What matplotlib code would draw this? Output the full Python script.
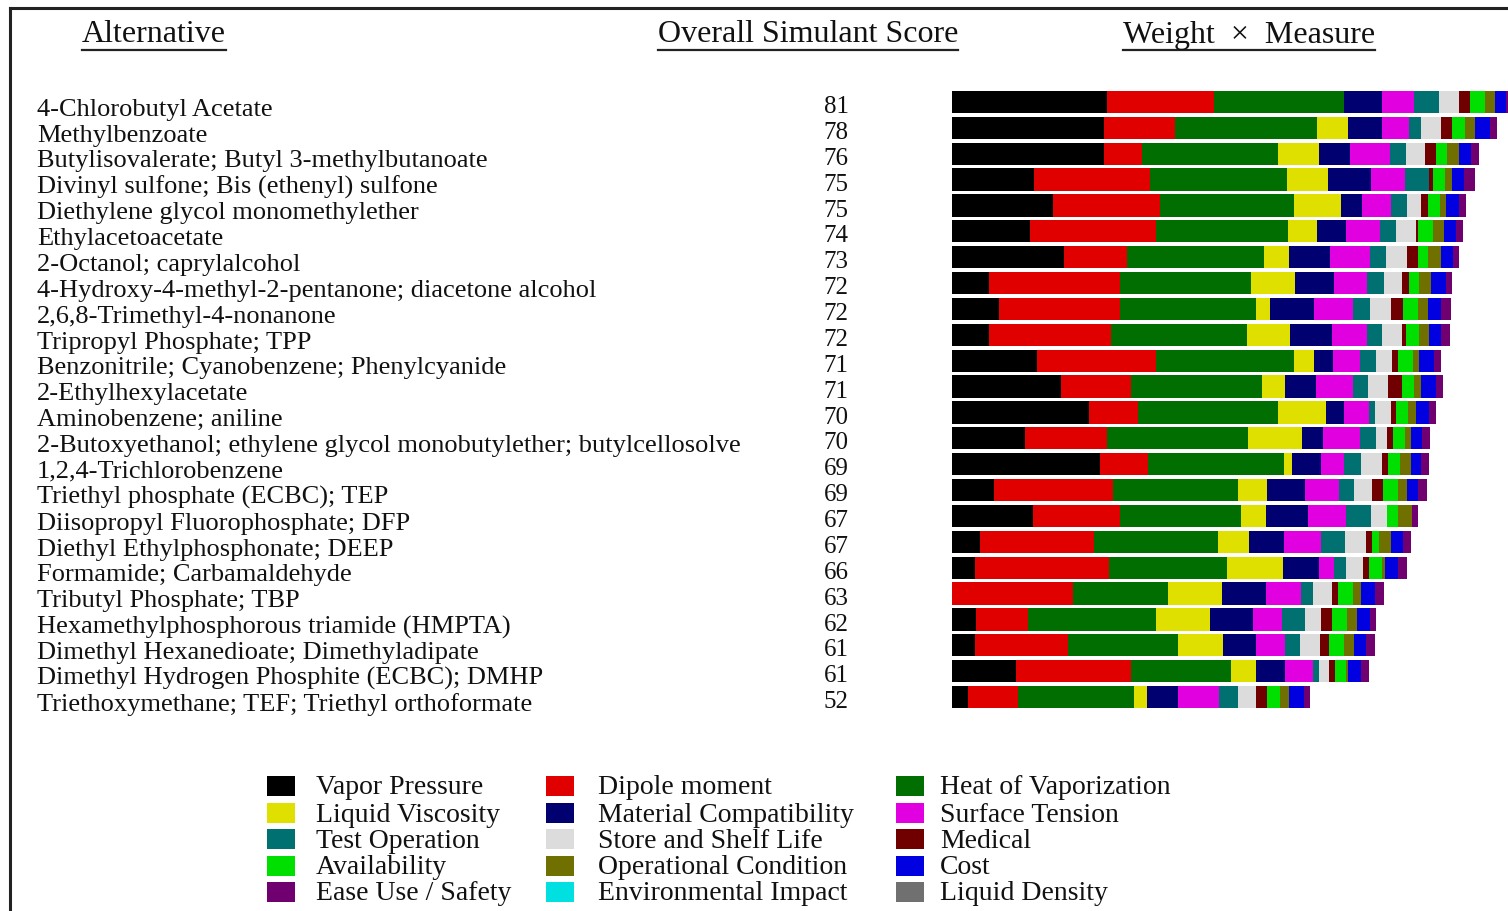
import matplotlib
matplotlib.use("Agg")
import matplotlib.pyplot as plt
from matplotlib.patches import Rectangle
from matplotlib.lines import Line2D
import matplotlib.transforms as mtransforms
import numpy as np

plt.rcParams['font.family'] = ['Liberation Serif', 'DejaVu Serif']

# alternatives, best first
names = [
    "4-Chlorobutyl Acetate",
    "Methylbenzoate",
    "Butylisovalerate; Butyl 3-methylbutanoate",
    "Divinyl sulfone; Bis (ethenyl) sulfone",
    "Diethylene glycol monomethylether",
    "Ethylacetoacetate",
    "2-Octanol; caprylalcohol",
    "4-Hydroxy-4-methyl-2-pentanone; diacetone alcohol",
    "2,6,8-Trimethyl-4-nonanone",
    "Tripropyl Phosphate; TPP",
    "Benzonitrile; Cyanobenzene; Phenylcyanide",
    "2-Ethylhexylacetate",
    "Aminobenzene; aniline",
    "2-Butoxyethanol; ethylene glycol monobutylether; butylcellosolve",
    "1,2,4-Trichlorobenzene",
    "Triethyl phosphate (ECBC); TEP",
    "Diisopropyl Fluorophosphate; DFP",
    "Diethyl Ethylphosphonate; DEEP",
    "Formamide; Carbamaldehyde",
    "Tributyl Phosphate; TBP",
    "Hexamethylphosphorous triamide (HMPTA)",
    "Dimethyl Hexanedioate; Dimethyladipate",
    "Dimethyl Hydrogen Phosphite (ECBC); DMHP",
    "Triethoxymethane; TEF; Triethyl orthoformate",
]
scores = [81, 78, 76, 75, 75, 74, 73, 72, 72, 72, 71, 71, 70, 70, 69, 69,
          67, 67, 66, 63, 62, 61, 61, 52]

# weight x measure, one list per criterion (stack order)
vapor = [22.3, 22.0, 22.0, 11.9, 14.6, 11.3, 16.1, 5.3, 6.8, 5.3, 12.2, 15.8,
         19.7, 10.5, 21.4, 6.0, 11.7, 4.1, 3.3, 0.0, 3.5, 3.3, 9.2, 2.3]
dipole = [15.5, 10.2, 5.4, 16.7, 15.4, 18.1, 9.2, 18.9, 17.4, 17.6, 17.3, 10.1,
          7.2, 11.9, 6.9, 17.3, 12.5, 16.4, 19.4, 17.5, 7.5, 13.5, 16.7, 7.2]
heat = [18.8, 20.5, 19.6, 19.8, 19.4, 19.1, 19.7, 19.0, 19.6, 19.7, 19.8, 18.8,
        20.2, 20.3, 19.6, 17.9, 17.5, 17.9, 17.0, 13.6, 18.5, 15.8, 14.4, 16.8]
viscosity = [0.0, 4.5, 6.0, 5.8, 6.8, 4.2, 3.6, 6.3, 2.1, 6.2, 3.0, 3.3,
             6.8, 7.8, 1.2, 4.2, 3.6, 4.4, 8.0, 7.9, 7.8, 6.5, 3.5, 1.8]
material = [5.4, 4.8, 4.5, 6.3, 3.0, 4.1, 6.0, 5.6, 6.3, 6.1, 2.7, 4.5,
            2.7, 3.0, 4.2, 5.6, 6.0, 5.1, 5.3, 6.3, 6.2, 4.8, 4.2, 4.5]
surface = [4.7, 3.9, 5.7, 4.8, 4.1, 4.9, 5.7, 4.8, 5.7, 5.0, 3.9, 5.4,
           3.6, 5.4, 3.3, 4.9, 5.6, 5.3, 2.1, 5.0, 4.1, 4.2, 4.1, 6.0]
test_op = [3.6, 1.8, 2.3, 3.5, 2.3, 2.3, 2.3, 2.4, 2.4, 2.1, 2.3, 2.1,
           0.9, 2.3, 2.4, 2.1, 3.6, 3.5, 1.8, 1.8, 3.3, 2.1, 0.8, 2.6]
shelf = [2.8, 2.9, 2.7, 0.0, 2.1, 2.9, 3.0, 2.6, 3.0, 3.0, 2.3, 2.9,
         2.3, 1.5, 3.0, 2.6, 2.3, 3.0, 2.4, 2.7, 2.4, 2.9, 1.5, 2.6]
medical = [1.6, 1.6, 1.6, 0.6, 1.0, 0.4, 1.6, 1.0, 1.8, 0.5, 0.9, 2.1,
           0.6, 1.0, 0.9, 1.6, 0.0, 0.9, 0.9, 0.9, 1.6, 1.3, 0.8, 1.6]
avail = [2.2, 1.8, 1.7, 1.8, 1.7, 2.1, 1.5, 1.5, 2.1, 1.9, 2.1, 1.6,
         1.8, 1.7, 1.7, 2.1, 1.5, 1.0, 1.8, 2.1, 2.1, 2.1, 1.7, 1.9]
opcond = [1.5, 1.5, 1.6, 0.9, 0.9, 1.6, 1.8, 1.7, 1.5, 1.5, 0.9, 1.1,
          1.2, 0.9, 1.6, 1.4, 2.1, 1.7, 0.5, 1.2, 1.4, 1.5, 0.3, 1.4]
cost = [1.6, 2.2, 1.8, 1.8, 1.8, 1.7, 1.8, 2.2, 1.8, 1.7, 2.1, 2.2,
        1.8, 1.5, 1.5, 1.6, 0.0, 1.8, 1.8, 2.0, 1.9, 1.8, 1.8, 2.1]
ease = [1.0, 0.9, 1.1, 1.5, 1.1, 1.1, 0.9, 0.9, 1.5, 1.2, 1.0, 0.9,
        1.1, 1.2, 1.2, 1.2, 0.9, 1.1, 1.3, 1.3, 0.9, 1.2, 1.2, 0.9]

stack = [
    ("Vapor Pressure", vapor, "#000000"),
    ("Dipole moment", dipole, "#e00000"),
    ("Heat of Vaporization", heat, "#006e00"),
    ("Liquid Viscosity", viscosity, "#e0e000"),
    ("Material Compatibility", material, "#000070"),
    ("Surface Tension", surface, "#e000e0"),
    ("Test Operation", test_op, "#007070"),
    ("Store and Shelf Life", shelf, "#dcdcdc"),
    ("Medical", medical, "#700000"),
    ("Availability", avail, "#00e000"),
    ("Operational Condition", opcond, "#707000"),
    ("Cost", cost, "#0000e0"),
    ("Ease Use / Safety", ease, "#700070"),
]

# legend, row by row as in the original
legend_rows = [
    [("Vapor Pressure", "#000000"), ("Dipole moment", "#e00000"), ("Heat of Vaporization", "#006e00")],
    [("Liquid Viscosity", "#e0e000"), ("Material Compatibility", "#000070"), ("Surface Tension", "#e000e0")],
    [("Test Operation", "#007070"), ("Store and Shelf Life", "#dcdcdc"), ("Medical", "#700000")],
    [("Availability", "#00e000"), ("Operational Condition", "#707000"), ("Cost", "#0000e0")],
    [("Ease Use / Safety", "#700070"), ("Environmental Impact", "#00e0e0"), ("Liquid Density", "#707070")],
]

W, H = 1508, 911
fig = plt.figure(figsize=(W / 100, H / 100), dpi=100)

def fx(px):
    return px / W

def fy(py):
    return 1 - py / H

# bar panel
ax = fig.add_axes([fx(952), fy(710), 1 - fx(952), (710 - 89) / H])
y = np.arange(len(names))
left = np.zeros(len(names))
for label, vals, col in stack:
    vals = np.array(vals)
    ax.barh(y, vals, left=left, height=0.86, color=col, edgecolor='none')
    left += vals
ax.set_ylim(len(names) - 0.5, -0.5)
ax.set_xlim(0, (W - 952) / 6.93)
ax.axis('off')

# names and scores
tr = mtransforms.blended_transform_factory(fig.transFigure, ax.transData)
for i, (n, s) in enumerate(zip(names, scores)):
    ax.text(fx(37), i + 0.3, n, transform=tr, ha='left', va='center',
            fontsize=19, color='#111111', clip_on=False)
    ax.text(fx(836), i + 0.2, str(s), transform=tr, ha='center', va='center',
            fontsize=18, color='#111111', clip_on=False)

# headers, underlined
heads = [(82, "Alternative"), (658, "Overall Simulant Score"), (1123, "Weight  \u00d7  Measure")]
htexts = []
for xp, t in heads:
    htexts.append(fig.text(fx(xp), fy(35), t, ha='left', va='center',
                           fontsize=23, color='#111111'))
fig.canvas.draw()
rend = fig.canvas.get_renderer()
for t in htexts:
    bb = t.get_window_extent(rend)
    fig.add_artist(Line2D([bb.x0 / W, bb.x1 / W], [fy(50), fy(50)],
                          transform=fig.transFigure, color='#222222', lw=1.6))

# legend drawn by hand
col_sq = [267, 546, 896]
col_tx = [316, 598, 940]
row_y = [786, 813, 839, 866, 892]
for r, row in enumerate(legend_rows):
    for c, (lab, colr) in enumerate(row):
        fig.add_artist(Rectangle((fx(col_sq[c]), fy(row_y[r] + 10)), 28 / W, 20 / H,
                                 transform=fig.transFigure, facecolor=colr,
                                 edgecolor='none'))
        fig.text(fx(col_tx[c]), fy(row_y[r] + 2), lab, ha='left', va='center',
                 fontsize=20, color='#111111')

# frame around the figure
fig.add_artist(Line2D([fx(10), 1], [fy(8), fy(8)], transform=fig.transFigure,
                      color='#222222', lw=2.2))
fig.add_artist(Line2D([fx(10), fx(10)], [fy(8), 0], transform=fig.transFigure,
                      color='#222222', lw=2.2))

fig.savefig("out.png", dpi=100)
